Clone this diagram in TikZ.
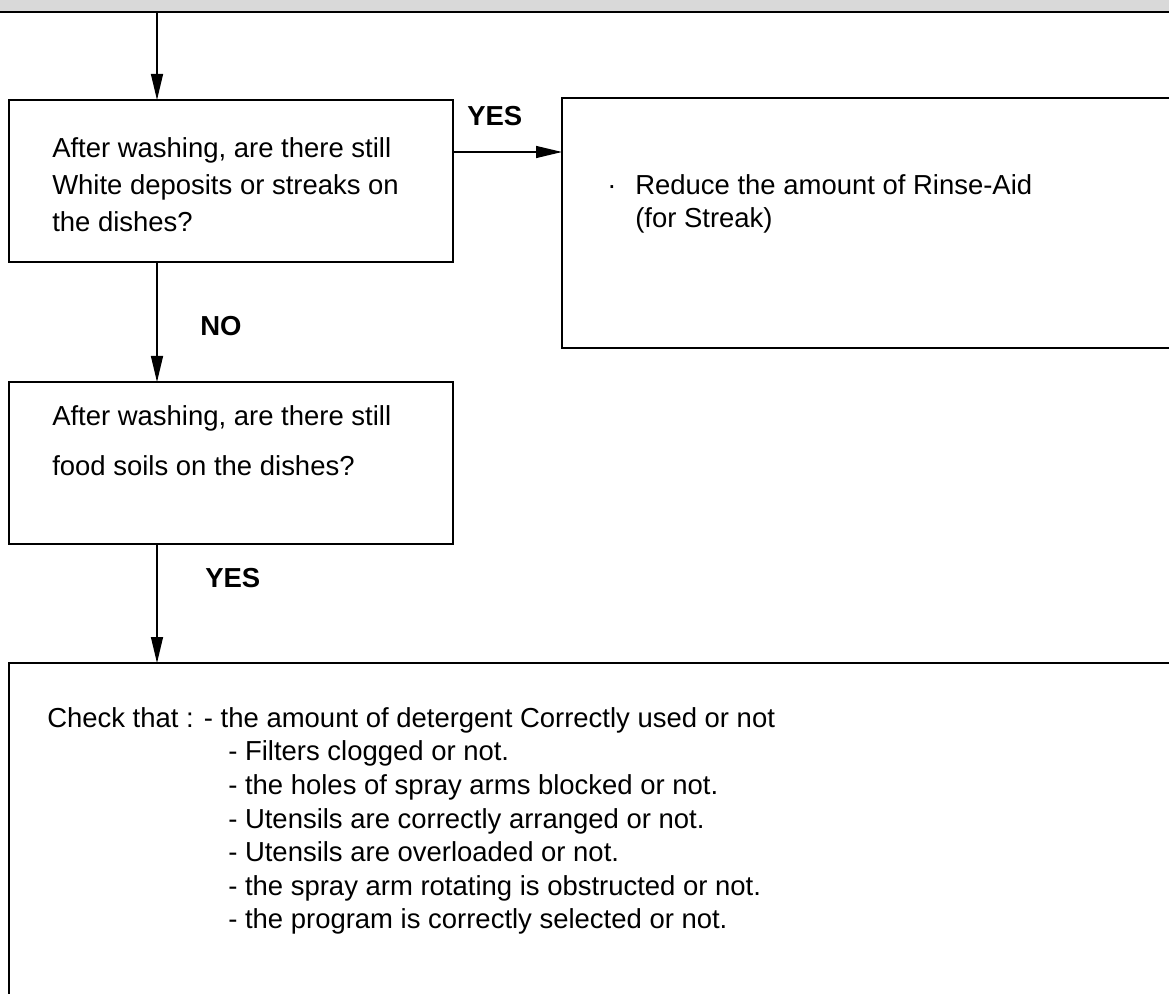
\documentclass[tikz,border=0pt]{standalone}
\usepackage{fontspec}
\setmainfont{Liberation Sans}
\usetikzlibrary{arrows.meta}
\tikzset{
  box/.style={draw=black, line width=1.5pt, fill=none, rectangle, anchor=north west, inner sep=0pt, outer sep=0pt},
  arr/.style={draw=black, line width=1pt, -{Triangle[length=19.5pt, width=9pt]}},
  txt/.style={anchor=base west, inner sep=0pt, font=\fontsize{20.6}{24}\selectfont},
  lbl/.style={anchor=base west, inner sep=0pt, font=\fontsize{20.6}{24}\selectfont\bfseries},
}
\definecolor{barfill}{HTML}{D9D9D9}
\begin{document}
\begin{tikzpicture}[x=0.75pt, y=-0.75pt]
\useasboundingbox (0,0) rectangle (1169,994);
\clip (0,0) rectangle (1169,994);
% top bar
\fill[barfill] (0,0) rectangle (1169,12);
\draw[line width=1.5pt, black] (0,12.5) -- (1169,12.5);
% boxes
\node[box, minimum width=333pt, minimum height=121.5pt] (b1) at (9,100) {};
\node[box, minimum width=463.5pt, minimum height=187.5pt] (b2) at (562,98) {};
\node[box, minimum width=333pt, minimum height=121.5pt] (b3) at (9,382) {};
\node[box, minimum width=878.25pt, minimum height=270pt] (b4) at (9,663) {};
% connectors
\coordinate (top) at (157,13.5);
\coordinate (ya) at (0,152);
\draw[arr] (top) -- (top |- b1.north);
\draw[arr] (b1.east |- ya) -- (b2.west |- ya);
\draw[arr] (top |- b1.south) -- (top |- b3.north);
\draw[arr] (top |- b3.south) -- (top |- b4.north);
% labels
\node[lbl] (yes1) at (467,126) {YES};
\node[lbl] (no1) at (200,336) {NO};
\node[lbl] (yes2) at (205,587) {YES};
% box 1 text
\node[txt] (t1a) at (52,158) {After washing, are there still};
\node[txt] (t1b) at (52,195) {White deposits or streaks on};
\node[txt] (t1c) at (52,232) {the dishes?};
% box 2 text
\node[txt] (t2dot) at (607,195) {·};
\node[txt] (t2a) at (635,195) {Reduce the amount of Rinse-Aid};
\node[txt] (t2b) at (635,228) {(for Streak)};
% box 3 text
\node[txt] (t3a) at (52,425) {After washing, are there still};
\node[txt] (t3b) at (52,475) {food soils on the dishes?};
% box 4 text
\node[txt] (t4a) at (47,727) {Check that : - the amount of detergent Correctly used or not};
\node[txt] (t4b) at (228,760) {- Filters clogged or not.};
\node[txt] (t4c) at (228,794) {- the holes of spray arms blocked or not.};
\node[txt] (t4d) at (228,828) {- Utensils are correctly arranged or not.};
\node[txt] (t4e) at (228,861) {- Utensils are overloaded or not.};
\node[txt] (t4f) at (228,895) {- the spray arm rotating is obstructed or not.};
\node[txt] (t4g) at (228,928) {- the program is correctly selected or not.};
\end{tikzpicture}
\end{document}
